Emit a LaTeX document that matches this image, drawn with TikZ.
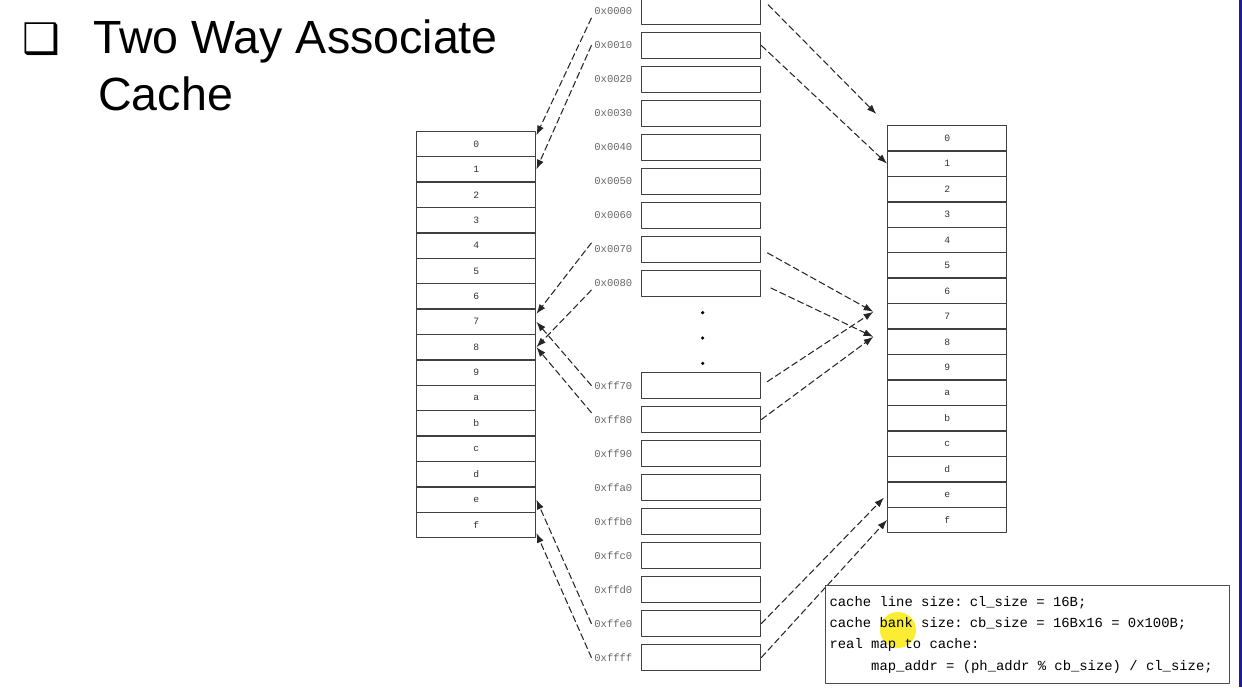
\documentclass[tikz,border=0pt]{standalone}
\usepackage{fontspec}
\setmainfont{Liberation Sans}
\setmonofont{Liberation Mono}
\newfontfamily\symfont{DejaVu Sans}
\usetikzlibrary{arrows.meta,calc}
\definecolor{slideblue}{RGB}{28,28,150}
\definecolor{marker}{RGB}{250,232,0}

\begin{document}
\begin{tikzpicture}[x=0.02cm,y=-0.02cm,line cap=round,line join=round,
  title/.style={font=\fontsize{26.5}{30}\selectfont,inner sep=0},
  cell/.style={draw=black!75,line width=0.8pt,minimum width=2.38cm,
    minimum height=0.509cm,inner sep=0,text=black!80,
    font=\ttfamily\fontsize{5.5}{6}\selectfont},
  blk/.style={draw=black!75,line width=0.8pt,minimum width=2.38cm,
    minimum height=0.514cm,inner sep=0},
  addr/.style={text=black!60,font=\ttfamily\fontsize{6}{7}\selectfont,
    inner sep=1.5pt,anchor=east},
  note/.style={draw=black!70,line width=0.6pt,anchor=north west,
    minimum width=8.08cm,minimum height=1.96cm,inner xsep=2.3pt,
    text width=7.92cm,align=left,font=\ttfamily\fontsize{7.9}{12.1}\selectfont,
    execute at begin node={\spaceskip=0.6em\relax}},
  link/.style={draw=black!85,line width=0.6pt,dash pattern=on 3.6pt off 2pt,
    -{Latex[length=5.5pt,width=4pt]}}]
  \useasboundingbox (0,0) rectangle (1242,687);
  \fill[slideblue] (1239,0) rectangle (1242,687);

  % heading
  \node[anchor=base west,inner sep=0,font=\symfont\fontsize{24}{28}\selectfont] (bullet) at (22,53.3) {❑};
  \node[title,anchor=base west] (head1) at (93,53.3) {Two Way Associate};
  \node[title,anchor=base west] (head2) at (98,110) {Cache};

  % two cache banks
  \foreach \d [count=\k from 0] in {0,1,2,3,4,5,6,7,8,9,a,b,c,d,e,f} {
    \node[cell] (l\d) at (476.2,{131.3+25.4*\k+12.7}) {\d};
    \node[cell] (r\d) at (947.2,{125.5+25.45*\k+12.72}) {\d};
  }

  % memory blocks
  \foreach \a/\k in {0000/0,0010/1,0020/2,0030/3,0040/4,0050/5,0060/6,0070/7,0080/8,
      ff70/11,ff80/12,ff90/13,ffa0/14,ffb0/15,ffc0/16,ffd0/17,ffe0/18,ffff/19} {
    \node[blk] (m\a) at (701.2,{11.5+34*\k}) {};
    \node[addr] (t\a) at ($(m\a.west)+(-5.7,0)$) {0x\a};
  }
  \foreach \y in {312.7,338,363.3}
    \fill (702.7,\y) circle[radius=1pt];

  % arrow ends
  \coordinate (lu0) at ($(l0.east)+(0,-8.7)$);
  \coordinate (lu7) at ($(l7.east)+(0,-8)$);
  \coordinate (ldf) at ($(lf.east)+(0,8)$);
  \coordinate (in7) at ($(r7.west)+(-13.7,-4.6)$);
  \coordinate (in8) at ($(r8.west)+(-13.7,-5)$);

  % first bank
  \draw[link] (t0000.south west) -- (lu0);
  \draw[link] (t0010.west) -- (l1.east);
  \draw[link] (t0070.north west) -- (lu7);
  \draw[link] (t0080.south west) -- (l8.east);
  \draw[link] (tff70.west) -- (l7.east);
  \draw[link] (tff80.north west) -- (l8.east);
  \draw[link] (tffe0.west) -- (le.east);
  \draw[link] (tffff.west) -- (ldf);

  % second bank
  \draw[link,shorten <=5.5pt,shorten >=8.6pt] (m0000.north east) -- (r0.north west);
  \draw[link] (m0010.east) -- (r1.west);
  \draw[link,shorten <=4pt] (m0070.east) -- (in7);
  \draw[link,shorten <=6pt] (m0080.east) -- (in8);
  \draw[link,shorten <=4pt] (mff70.east) -- (in7);
  \draw[link] (mff80.east) -- (in8);
  \draw[link,shorten >=2.5pt] (mffe0.east) -- (re.west);
  \draw[link] (mffff.east) -- (rf.west);

  % formula box
  \fill[marker,opacity=0.8] (898,630) circle[radius=0.36cm];
  \node[note] (formula) at (825,585) {cache line size: cl\_size = 16B;\\
    cache bank size: cb\_size = 16Bx16 = 0x100B;\\
    real map to cache:\\
    \hphantom{00000}map\_addr = (ph\_addr \% cb\_size) / cl\_size;};
\end{tikzpicture}
\end{document}
